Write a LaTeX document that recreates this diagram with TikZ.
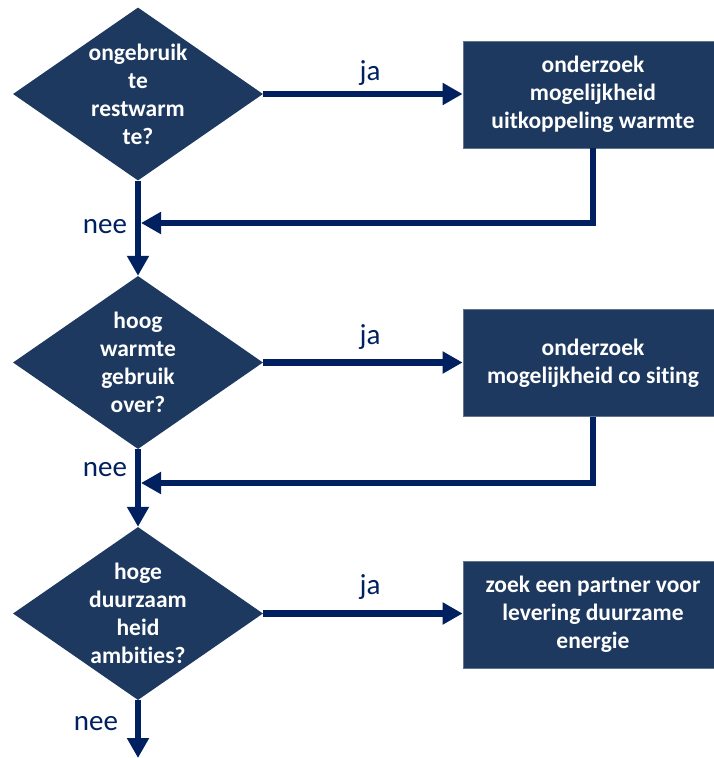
\documentclass[tikz,border=0pt]{standalone}
\usepackage{fontspec}
\setmainfont{Carlito}[Ligatures=NoCommon]
\usetikzlibrary{shapes.geometric,arrows.meta}
\definecolor{boxblue}{HTML}{1D3960}
\definecolor{linkblue}{HTML}{002060}
\begin{document}
\begin{tikzpicture}[x=1pt,y=-1pt,
  decision/.style={diamond,fill=boxblue,minimum width=250pt,minimum height=173pt,inner sep=0pt},
  qtext/.style={text=white,font=\fontsize{23.5}{28}\selectfont\bfseries,align=center},
  action/.style={rectangle,fill=boxblue,draw=boxblue!70!white,line width=0.8pt,
    minimum width=260pt,minimum height=107pt,inner sep=0pt,text=white,
    font=\fontsize{23.5}{28}\selectfont\bfseries,align=center},
  flow/.style={draw=linkblue,line width=6.5pt,-{Triangle[length=20pt,width=21pt]}},
  answer/.style={text=linkblue,font=\fontsize{29}{34}\selectfont},
]
\useasboundingbox (0,0) rectangle (714,758);

% decisions
\node[decision] (d1) at (138,94) {};
\node[qtext] (t1) at (d1.center) {ongebruik\\te\\restwarm\\te?};
\node[decision] (d2) at (138,362.5) {};
\node[qtext] (t2) at (d2.center) {hoog\\warmte\\gebruik\\over?};
\node[decision] (d3) at (138,613.5) {};
\node[qtext] (t3) at (d3.center) {hoge\\duurzaam\\heid\\ambities?};

% actions
\node[action] (b1) at (593,94.5) {onderzoek\\mogelijkheid\\uitkoppeling warmte};
\node[action] (b2) at (593,363) {onderzoek\\mogelijkheid co siting};
\node[action] (b3) at (593,614.5) {zoek een partner voor\\levering duurzame\\energie};

% junctions on the main line
\coordinate (m1) at (141,223);
\coordinate (m2) at (141,483);
\coordinate (end) at (138,758);

% yes branches
\draw[flow] (d1.east) -- (d1.east -| b1.west);
\draw[flow] (d2.east) -- (d2.east -| b2.west);
\draw[flow] (d3.east) -- (d3.east -| b3.west);
\node[answer] (ja1) at (370,73) {ja};
\node[answer] (ja2) at (370,337) {ja};
\node[answer] (ja3) at (370,587) {ja};

% main line
\draw[flow] (d1.south) -- (d2.north);
\draw[flow] (d2.south) -- (d3.north);
\draw[flow] (d3.south) -- (end);
\node[answer] (nee1) at (105,227) {nee};
\node[answer] (nee2) at (105,470) {nee};
\node[answer] (nee3) at (96,724) {nee};

% returns from the actions
\draw[flow] (b1.south) |- (m1);
\draw[flow] (b2.south) |- (m2);
\end{tikzpicture}
\end{document}
